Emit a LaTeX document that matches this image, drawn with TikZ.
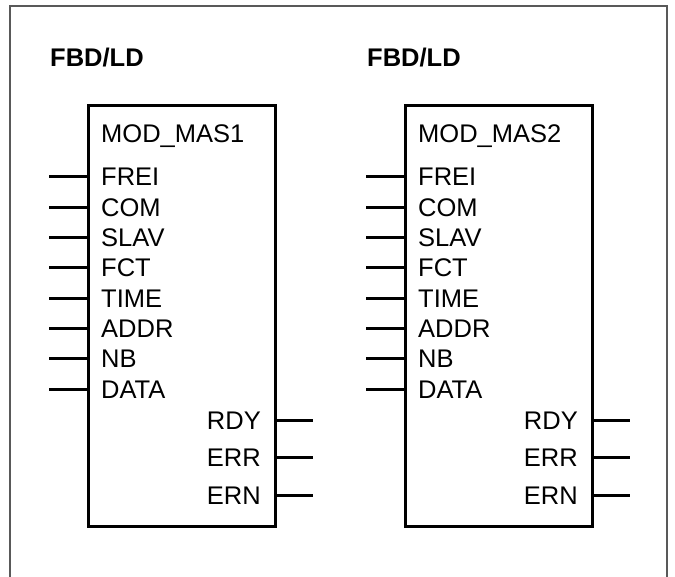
\documentclass[tikz,border=0pt]{standalone}
\usepackage{fontspec}
\setmainfont{Liberation Sans}
\begin{document}
\begin{tikzpicture}[x=1pt,y=-1pt,
  blk/.style={draw, line width=3pt, minimum width=187pt, minimum height=420pt, inner sep=0pt},
  lbl/.style={font=\fontsize{25.5}{30}\selectfont, inner sep=0pt},
  ttl/.style={font=\fontsize{25.5}{30}\selectfont\bfseries, inner sep=0pt, anchor=base west},
  stub/.style={line width=3pt},
  frame/.style={draw=black!65, line width=1.3pt}]
\useasboundingbox (0,0) rectangle (675,577);
\draw[frame] (10,590) -- (10,6) -- (667,6) -- (667,590);
\foreach \k/\cx/\lx in {1/181.5/101, 2/498.5/418}{
  \node[ttl] (t\k) at (\lx-51,67) {FBD/LD};
  \node[blk] (b\k) at (\cx,316) {};
  \node[lbl, anchor=base west] (n\k) at (\lx,143) {MOD\_MAS\k};
  \foreach \nm [count=\i from 0] in {FREI,COM,SLAV,FCT,TIME,ADDR,NB,DATA}{
    \pgfmathsetmacro{\yy}{177+30.3*\i}
    \coordinate (i\k\i) at (\lx-52,\yy);
    \node[lbl, anchor=base west] (l\k\i) at (\lx,\yy+9) {\nm};
    \draw[stub] (i\k\i) -- (b\k.west |- i\k\i);
  }
  \foreach \nm [count=\i from 0] in {RDY,ERR,ERN}{
    \pgfmathsetmacro{\yy}{420+37.5*\i}
    \coordinate (o\k\i) at (\cx+131.5,\yy);
    \node[lbl, anchor=base east] (r\k\i) at (\cx+79.5,\yy+9) {\nm};
    \draw[stub] (b\k.east |- o\k\i) -- (o\k\i);
  }
}
\end{tikzpicture}
\end{document}
